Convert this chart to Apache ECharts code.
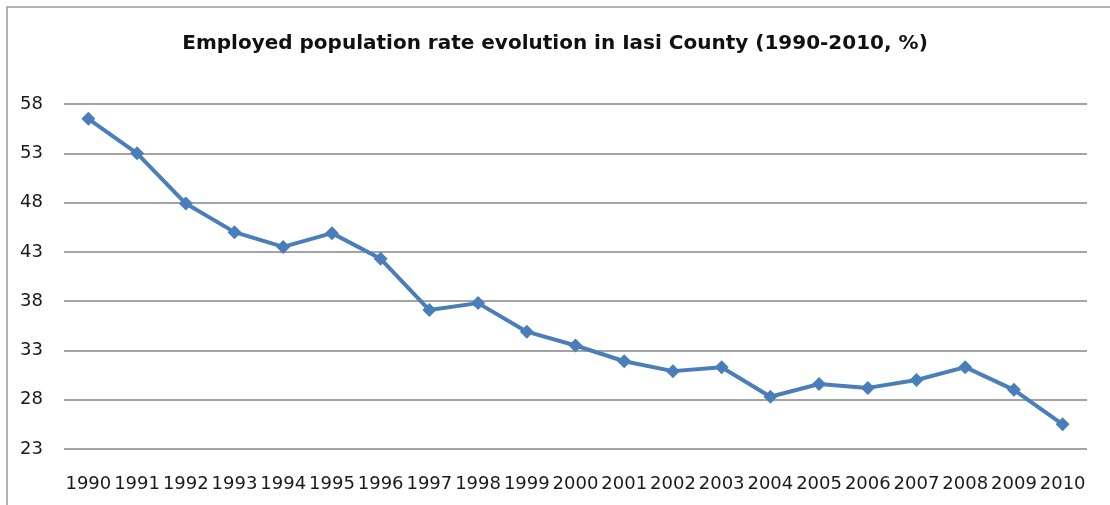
<!DOCTYPE html>
<html>
<head>
<meta charset="utf-8">
<script src="https://cdn.jsdelivr.net/npm/echarts@6/dist/echarts.min.js"></script>
<style>
  html, body { margin: 0; padding: 0; background: #ffffff; }
  #chart { width: 1110px; height: 505px; }
</style>
</head>
<body>
<div id="chart"></div>
<script>
// Employed population rate, Iasi County, 1990-2010 (%)
const years = ['1990', '1991', '1992', '1993', '1994', '1995', '1996', '1997', '1998', '1999', '2000',
               '2001', '2002', '2003', '2004', '2005', '2006', '2007', '2008', '2009', '2010'];
const employedRate = [56.5, 53.0, 47.9, 45.0, 43.5, 44.9, 42.3, 37.1, 37.8, 34.9, 33.5,
                      31.9, 30.9, 31.3, 28.3, 29.6, 29.2, 30.0, 31.3, 29.0, 25.5];
const yTicks = [23, 28, 33, 38, 43, 48, 53, 58];

const chart = echarts.init(document.getElementById('chart'), null, { renderer: 'canvas' });

chart.setOption({
  backgroundColor: '#ffffff',
  animation: false,
  title: {
    text: 'Employed population rate evolution in Iasi County (1990-2010, %)',
    left: 'center',
    top: 29,
    textStyle: { fontFamily: 'DejaVu Sans', fontWeight: 'bold', fontSize: 20, color: '#111111' }
  },
  graphic: [{
    type: 'rect',
    shape: { x: 7, y: 7, width: 1200, height: 600 },
    style: { fill: 'none', stroke: '#9a9a9a', lineWidth: 1.5 },
    silent: true
  }],
  grid: { left: 64, right: 23, top: 104, bottom: 56, containLabel: false },
  xAxis: {
    type: 'category',
    data: years,
    boundaryGap: true,
    axisLine: { show: false },
    axisTick: { show: false },
    axisLabel: { interval: 0, margin: 26, fontFamily: 'DejaVu Sans', fontSize: 18, color: '#1a1a1a' }
  },
  yAxis: {
    type: 'value',
    min: 23,
    max: 58,
    axisLine: { show: false },
    axisTick: { show: false, customValues: yTicks },
    axisLabel: { customValues: yTicks, margin: 21, fontFamily: 'DejaVu Sans', fontSize: 18, color: '#1a1a1a' },
    splitLine: { show: true, lineStyle: { color: '#868686', width: 1.5 } }
  },
  series: [{
    type: 'line',
    data: employedRate,
    symbol: 'diamond',
    symbolSize: 14,
    lineStyle: { color: '#4a7ebb', width: 4 },
    itemStyle: { color: '#4a7ebb' }
  }]
});
</script>
</body>
</html>
